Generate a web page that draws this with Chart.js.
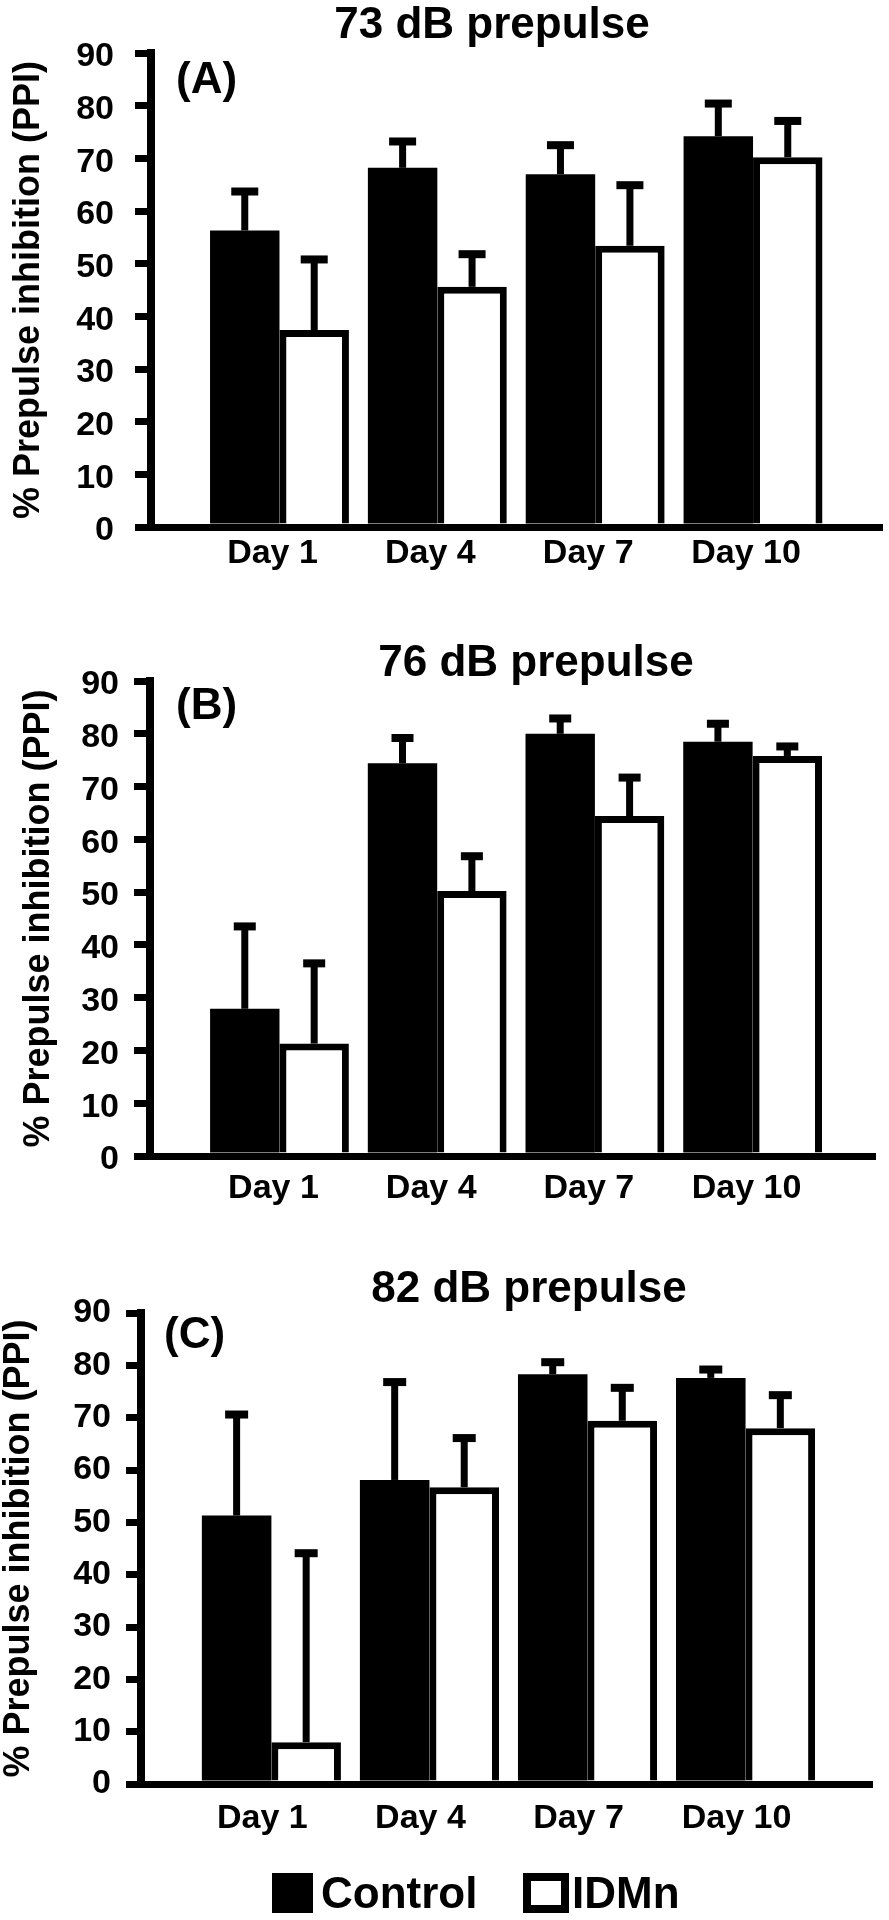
<!DOCTYPE html>
<html>
<head>
<meta charset="utf-8">
<title>Prepulse inhibition</title>
<script src="https://cdn.jsdelivr.net/npm/chart.js@4.4.1/dist/chart.umd.min.js"></script>
<style>
  html, body { margin: 0; padding: 0; background: #fff; }
  #wrap { position: relative; width: 889px; height: 1920px; }
  .panel { position: absolute; left: 0; }
</style>
</head>
<body>
<div id="wrap">
  <canvas id="panelA" class="panel" width="889" height="610" style="top:0"></canvas>
  <canvas id="panelB" class="panel" width="889" height="610" style="top:610px"></canvas>
  <canvas id="panelC" class="panel" width="889" height="700" style="top:1220px"></canvas>
</div>
<script>
// ── data ──
const days = ['Day 1', 'Day 4', 'Day 7', 'Day 10'];
const seriesNames = ['Control', 'IDMn'];
const yTicks = [0, 10, 20, 30, 40, 50, 60, 70, 80, 90];
const yTitle = '% Prepulse inhibition (PPI)';
const panelTitles = ['73 dB prepulse', '76 dB prepulse', '82 dB prepulse'];
const panelLetters = ['(A)', '(B)', '(C)'];

// 73 dB
const controlA = [56.3, 68.2, 67.0, 74.2];
const controlSemA = [7.4, 5.0, 5.5, 6.2];
const idmnA = [37.4, 45.6, 53.4, 70.2];
const idmnSemA = [13.4, 6.2, 11.5, 6.9];
// 76 dB
const controlB = [27.9, 74.4, 80.0, 78.5];
const controlSemB = [15.6, 4.8, 2.9, 3.4];
const idmnB = [21.3, 50.2, 64.4, 75.8];
const idmnSemB = [15.2, 6.6, 7.3, 1.8];
// 82 dB
const controlC = [51.3, 58.1, 78.3, 77.6];
const controlSemC = [19.3, 18.7, 2.3, 1.6];
const idmnC = [8.0, 56.7, 69.4, 68.0];
const idmnSemC = [36.1, 9.4, 6.3, 6.3];

const FONT = '"Liberation Sans", Arial, Helvetica, sans-serif';

// ── panel geometry (pixels inside each canvas) ──
const layoutA = { h: 610, top: 53, zero: 527, left: 151, right: 7, xMin: -0.814, xMax: 3.817,
  tickLen: 16, tickPad: 21, labelDy: 4, xPad: 6, xDx: -7, titlePad: 11, cap: 27,
  titleX: 492, titleY: 38, letterX: 176, letterY: 93 };
const layoutB = { h: 610, top: 71, zero: 546, left: 150, right: 14, xMin: -0.821, xMax: 3.776,
  tickLen: 16, tickPad: 15, labelDy: 4, xPad: 12, xDx: -6, titlePad: 21, cap: 22,
  titleX: 536, titleY: 66, letterX: 176, letterY: 109 };
const layoutC = { h: 700, top: 93, zero: 564, left: 141, right: 17, xMin: -0.825, xMax: 3.80,
  tickLen: 15, tickPad: 15, labelDy: 0, xPad: 14, xDx: -9, titlePad: 1, cap: 23,
  titleX: 529, titleY: 82, letterX: 164, letterY: 128 };

/* ── error bars: stem from bar top up to mean + SEM, with a cap ── */
const errorBars = {
  id: 'errorBars',
  afterDatasetsDraw(chart, args, opts) {
    const { ctx } = chart;
    const y = chart.scales.y;
    ctx.save();
    ctx.fillStyle = '#000';
    chart.data.datasets.forEach((ds, di) => {
      chart.getDatasetMeta(di).data.forEach((bar, i) => {
        const top = y.getPixelForValue(ds.data[i].y + ds.sem[i]);
        ctx.fillRect(bar.x - 3.5, top, 7, bar.y - top);
        ctx.fillRect(bar.x - opts.cap / 2, top - 4, opts.cap, 8);
      });
    });
    ctx.restore();
  }
};

/* ── panel title + letter ── */
const panelText = {
  id: 'panelText',
  afterDraw(chart, args, o) {
    const { ctx } = chart;
    ctx.save();
    ctx.fillStyle = '#000';
    ctx.textBaseline = 'alphabetic';
    ctx.font = 'bold 44px ' + FONT;
    ctx.textAlign = 'center';
    ctx.fillText(o.title, o.x, o.y);
    ctx.textAlign = 'left';
    ctx.fillText(o.letter, o.lx, o.ly);
    ctx.restore();
  }
};

/* ── legend under the last panel ── */
const legendBox = {
  id: 'legendBox',
  afterDraw(chart, args, o) {
    const { ctx } = chart;
    ctx.save();
    ctx.font = 'bold 44px ' + FONT;
    ctx.textAlign = 'left';
    ctx.textBaseline = 'alphabetic';
    chart.data.datasets.forEach((ds, i) => {
      const it = o.items[i];
      ctx.fillStyle = '#000';
      ctx.fillRect(it.x, o.top, it.w, o.size);
      if (ds.borderWidth) {
        ctx.fillStyle = ds.backgroundColor;
        ctx.fillRect(it.x + 8, o.top + 8, it.w - 16, o.size - 16);
      }
      ctx.fillStyle = '#000';
      ctx.fillText(ds.label, it.tx, o.baseline);
    });
    ctx.restore();
  }
};

function makePanel(canvasId, p, idx, control, controlSem, idmn, idmnSem, extra) {
  const plugins = [errorBars, panelText].concat(extra ? [legendBox] : []);
  return new Chart(document.getElementById(canvasId), {
    type: 'bar',
    data: {
      datasets: [
        {
          label: seriesNames[0],
          data: control.map((v, i) => ({ x: i, y: v })),
          sem: controlSem,
          backgroundColor: '#000',
          borderWidth: 0
        },
        {
          label: seriesNames[1],
          data: idmn.map((v, i) => ({ x: i, y: v })),
          sem: idmnSem,
          backgroundColor: '#fff',
          borderColor: '#000',
          borderWidth: 7,
          borderSkipped: 'start'
        }
      ]
    },
    plugins,
    options: {
      responsive: false,
      animation: false,
      events: [],
      layout: { padding: { top: p.top, right: p.right, bottom: 0, left: 0 } },
      datasets: { bar: { categoryPercentage: 0.88, barPercentage: 1 } },
      plugins: {
        legend: { display: false },
        tooltip: { enabled: false },
        errorBars: { cap: p.cap },
        panelText: { title: panelTitles[idx], x: p.titleX, y: p.titleY,
                     letter: panelLetters[idx], lx: p.letterX, ly: p.letterY },
        legendBox: extra || {}
      },
      scales: {
        x: {
          type: 'linear',
          min: p.xMin,
          max: p.xMax,
          offset: false,
          z: 1,
          afterBuildTicks: s => { s.ticks = days.map((d, i) => ({ value: i })); },
          afterFit: s => { s.height = p.h - p.zero; },
          ticks: {
            callback: v => days[v],
            autoSkip: false,
            maxRotation: 0,
            padding: p.xPad,
            labelOffset: p.xDx,
            color: '#000',
            font: { family: FONT, size: 34, weight: 'bold' }
          },
          grid: { display: false, drawTicks: false },
          border: { display: true, width: 7, color: '#000' }
        },
        y: {
          min: yTicks[0],
          max: yTicks[yTicks.length - 1],
          z: 1,
          afterBuildTicks: s => { s.ticks = yTicks.map(v => ({ value: v })); },
          afterFit: s => { s.width = p.left; },
          ticks: {
            padding: p.tickPad,
            labelOffset: p.labelDy,
            color: '#000',
            font: { family: FONT, size: 34, weight: 'bold' }
          },
          grid: {
            drawOnChartArea: false,
            drawTicks: true,
            tickLength: p.tickLen,
            lineWidth: 7,
            tickWidth: 7,
            color: '#000',
            tickColor: '#000'
          },
          border: { display: true, width: 8, color: '#000' },
          title: {
            display: true,
            text: yTitle,
            color: '#000',
            font: { family: FONT, size: 36, weight: 'bold', lineHeight: 1 },
            padding: { top: p.titlePad, bottom: 0 }
          }
        }
      }
    }
  });
}

makePanel('panelA', layoutA, 0, controlA, controlSemA, idmnA, idmnSemA);
makePanel('panelB', layoutB, 1, controlB, controlSemB, idmnB, idmnSemB);
makePanel('panelC', layoutC, 2, controlC, controlSemC, idmnC, idmnSemC, {
  top: 653, size: 40, baseline: 688,
  items: [{ x: 272, w: 41, tx: 321 }, { x: 523, w: 46, tx: 572 }]
});
</script>
</body>
</html>
